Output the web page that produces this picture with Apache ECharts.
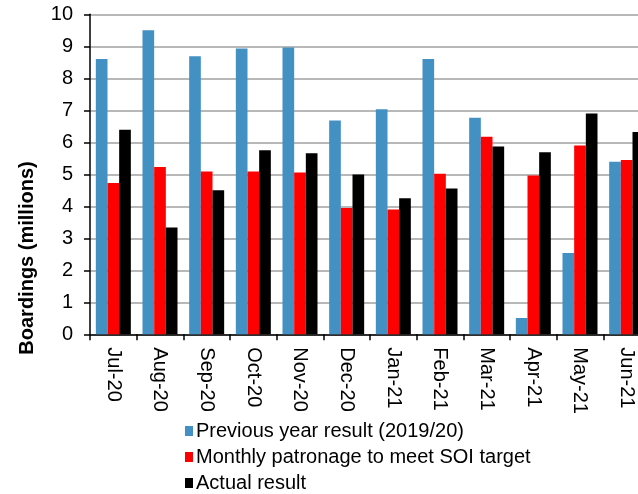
<!DOCTYPE html>
<html>
<head>
<meta charset="utf-8">
<script src="https://cdn.jsdelivr.net/npm/echarts@6/dist/echarts.min.js"></script>
<style>
  html, body { margin: 0; padding: 0; background: #fff; }
  #chart { width: 638px; height: 494px; }
</style>
</head>
<body>
<div id="chart"></div>
<script>
// Monthly boardings, millions
const months = ['Jul-20', 'Aug-20', 'Sep-20', 'Oct-20', 'Nov-20', 'Dec-20',
                'Jan-21', 'Feb-21', 'Mar-21', 'Apr-21', 'May-21', 'Jun-21'];
const previousYear = [8.6, 9.5, 8.69, 8.93, 8.96, 6.68, 7.03, 8.6, 6.77, 0.51, 2.54, 5.39];
const soiTarget    = [4.73, 5.23, 5.09, 5.09, 5.06, 3.95, 3.9, 5.02, 6.17, 4.96, 5.9, 5.45];
const actual       = [6.39, 3.34, 4.5, 5.75, 5.66, 4.99, 4.25, 4.56, 5.87, 5.69, 6.9, 6.32];
const yTicks = [0, 1, 2, 3, 4, 5, 6, 7, 8, 9, 10];

const seriesNames = ['Previous year result (2019/20)', 'Monthly patronage to meet SOI target', 'Actual result'];
const seriesColors = ['#4390c3', '#ff0000', '#000000'];
const seriesData = [previousYear, soiTarget, actual];
const yTitle = 'Boardings (millions)';

const font = 'Liberation Sans, Arial, sans-serif';
const chart = echarts.init(document.getElementById('chart'));

chart.setOption({
  animation: false,
  // plot area runs past the right edge, so the last month is clipped
  grid: { left: 90, width: 560, top: 14.3, height: 320, containLabel: false, outerBoundsMode: 'none' },
  legend: {
    orient: 'vertical',
    left: 180,
    top: 416,
    height: 80,
    itemWidth: 8,
    itemHeight: 10,
    itemGap: 6,
    icon: 'rect',
    textStyle: { fontFamily: font, fontSize: 20, color: '#000', padding: [0, 0, 0, -2] },
    data: seriesNames
  },
  graphic: [{
    type: 'text',
    x: 27,
    y: 258,
    rotation: Math.PI / 2,
    style: {
      text: yTitle,
      fontFamily: font,
      fontSize: 20,
      fontWeight: 'bold',
      fill: '#000',
      align: 'center',
      verticalAlign: 'middle'
    }
  }],
  xAxis: {
    type: 'category',
    data: months,
    axisLine: { lineStyle: { color: '#000', width: 1.5 } },
    axisTick: { show: true, alignWithLabel: false, length: 6, lineStyle: { color: '#000', width: 1.5 } },
    axisLabel: {
      rotate: -90,
      margin: 13,
      fontFamily: font,
      fontSize: 20,
      color: '#000',
      interval: 0
    }
  },
  yAxis: {
    type: 'value',
    min: yTicks[0],
    max: yTicks[yTicks.length - 1],
    interval: 1,
    axisLine: { show: true, lineStyle: { color: '#000', width: 1.5 } },
    axisTick: { show: true, length: 6, lineStyle: { color: '#000', width: 1.5 } },
    axisLabel: { fontFamily: font, fontSize: 20, color: '#000', margin: 17 },
    splitLine: { lineStyle: { color: '#a0a0a0', width: 1.5 } }
  },
  series: seriesData.map((d, i) => ({
    name: seriesNames[i],
    type: 'bar',
    data: d,
    barGap: '0%',
    barCategoryGap: '25%',
    itemStyle: { color: seriesColors[i] }
  }))
});
</script>
</body>
</html>
